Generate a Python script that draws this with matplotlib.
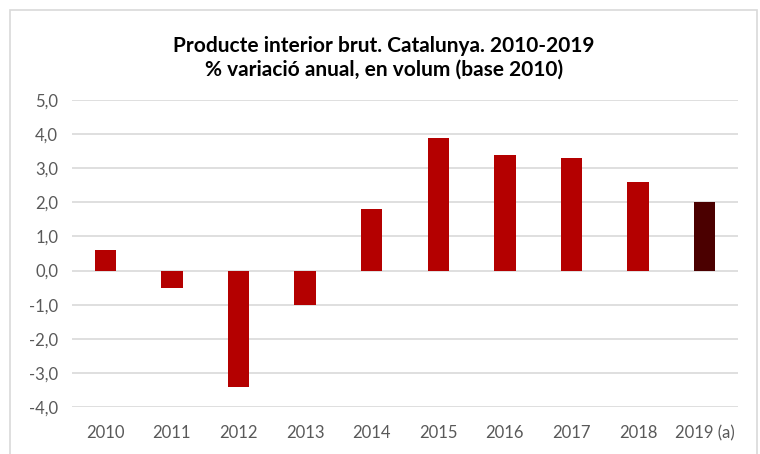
import matplotlib
matplotlib.use("Agg")
import matplotlib.pyplot as plt
from matplotlib.patches import Rectangle
import numpy as np

years = ["2010", "2011", "2012", "2013", "2014", "2015", "2016", "2017", "2018", "2019 (a)"]
values = [0.6, -0.5, -3.4, -1.0, 1.8, 3.9, 3.4, 3.3, 2.6, 2.0]
colors = ["#B40000"] * 9 + ["#4B0000"]
yticks = [-4, -3, -2, -1, 0, 1, 2, 3, 4, 5]

plt.rcParams['font.family'] = ['Lato', 'DejaVu Sans']

fig = plt.figure(figsize=(7.6, 4.54), dpi=100)
fig.patches.append(Rectangle((10/760, -0.1), (757-10)/760, 1.1 - 10/454,
                             transform=fig.transFigure, fill=False,
                             edgecolor="#D9D9D9", linewidth=1.2))
ax = fig.add_axes([72/760, 1-407/454, (738-72)/760, (407-100)/454])

x = np.arange(len(years))
ax.bar(x, values, width=0.32, color=colors, zorder=3)
ax.set_xlim(-0.5, len(years) - 0.5)
ax.set_ylim(-4, 5)
ax.set_yticks(yticks)
ax.set_yticklabels([f"{v:.1f}".replace(".", ",") for v in yticks])
ax.set_xticks(x)
ax.set_xticklabels(years)
ax.grid(axis="y", color="#D9D9D9", linewidth=1.2, zorder=0)
for s in ax.spines.values():
    s.set_visible(False)
ax.tick_params(axis="both", length=0, labelsize=12, labelcolor="#595959")
ax.tick_params(axis="x", pad=13)
ax.tick_params(axis="y", pad=10)

fig.text(384/760, 1-51.7/454, "Producte interior brut. Catalunya. 2010-2019",
         ha="center", va="baseline", fontsize=15, fontweight="bold", color="black")
fig.text(384/760, 1-75.7/454, "% variació anual, en volum (base 2010)",
         ha="center", va="baseline", fontsize=15, fontweight="bold", color="black")

fig.savefig("out.png", dpi=100)
